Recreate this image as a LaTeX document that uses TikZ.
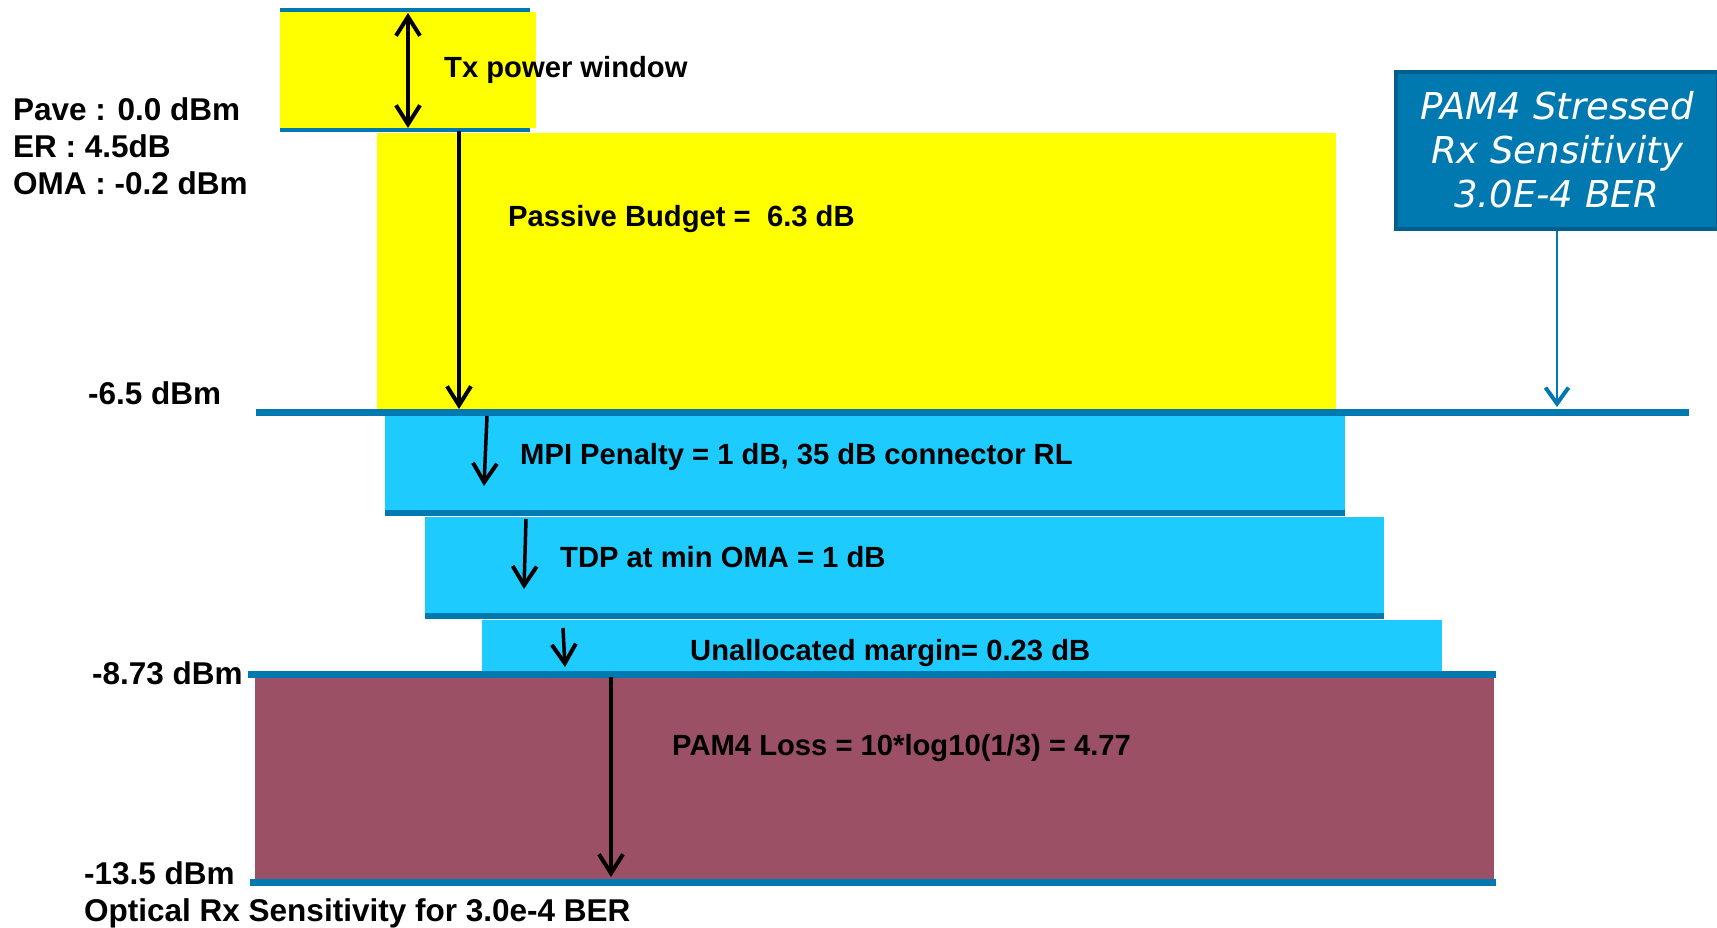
\documentclass[tikz,border=0pt]{standalone}
\usepackage{fontspec}
\setmainfont{Liberation Sans}
\newfontfamily\boxfont{DejaVu Sans}
\usetikzlibrary{arrows.meta}
\definecolor{txyellow}{HTML}{FFFF00}
\definecolor{penblue}{HTML}{1DCBFF}
\definecolor{lossred}{HTML}{9B5065}
\definecolor{levelblue}{HTML}{0079B0}
\definecolor{boxedge}{HTML}{005F8C}
\begin{document}
\begin{tikzpicture}[x=1pt,y=-1pt, every node/.style={font=\fontsize{29.2}{33}\selectfont\bfseries,inner sep=0pt,text height=21pt,text depth=0pt,anchor=west},
	side/.style={font=\fontsize{31.5}{36}\selectfont\bfseries,text height=22.5pt},
	level/.style={draw=levelblue,line width=7pt},
	barb/.tip={Straight Barb[length=19pt,width=24pt,line width=4pt]},
	drop/.style={line width=3.5pt,-barb},
	sensbox/.style={fill=levelblue,draw=boxedge,line width=4pt,anchor=center,text height=,text depth=,minimum width=322pt,minimum height=157pt,align=center,text=white,font=\fontsize{37}{44}\selectfont\boxfont\itshape}]
			\useasboundingbox (0,0) rectangle (1717,927);
			\fill[txyellow] (280,12) rectangle (536,128);
			\draw[levelblue,line width=4pt] (280,10) -- (530,10) (280,130) -- (530,130);
			\fill[txyellow] (377,133) rectangle (1336,410);
			\fill[penblue] (385,415) rectangle (1345,512);
			\draw[level,line width=6pt] (385,513) -- (1345,513);
			\fill[penblue] (425,517) rectangle (1384,614);
			\draw[level,line width=6pt] (425,616) -- (1384,616);
			\fill[penblue] (482,620) rectangle (1442,672);
			\fill[lossred] (255,678) rectangle (1494,880);
			\draw[level] (256,412) -- (1689,412);
			\draw[level] (248,674) -- (1496,674);
			\draw[level] (250,882) -- (1496,882);
			\node[side] (pave) at (13,109) {Pave : 0.0 dBm};
			\node[side] (er) at (13,146) {ER : 4.5dB};
			\node[side] (oma) at (13,183) {OMA : -0.2 dBm};
			\node[side] (lvla) at (88,393) {-6.5 dBm};
			\node[side] (lvlb) at (92,673) {-8.73 dBm};
			\node[side] (lvlc) at (84,873) {-13.5 dBm};
			\node[side] (optical) at (84,910) {Optical Rx Sensitivity for 3.0e-4 BER};
			\node (txwin) at (444,67) {Tx power window};
			\node (passive) at (508,216) {Passive Budget =\ \ 6.3 dB};
			\node (mpi) at (520,454) {MPI Penalty = 1 dB, 35 dB connector RL};
			\node (tdp) at (560,557) {TDP at min OMA = 1 dB};
			\node (unalloc) at (690,650) {Unallocated margin= 0.23 dB};
			\node (pamloss) at (672,745) {PAM4 Loss = 10*log10(1/3) = 4.77};
			\node[sensbox] (sens) at (1557,150) {PAM4 Stressed\\Rx Sensitivity\\3.0E-4 BER};
			\coordinate (txtop) at (408,13);
			\coordinate (txbot) at (408,128);
			\coordinate (pbtop) at (459,131);
			\coordinate (pbbot) at (459,409);
			\coordinate (mpitop) at (487,416);
			\coordinate (mpibot) at (484,486);
			\coordinate (tdptop) at (526,519);
			\coordinate (tdpbot) at (524,589);
			\coordinate (uatop) at (563,628);
			\coordinate (uabot) at (565,667);
			\coordinate (pltop) at (611,677);
			\coordinate (plbot) at (611,877);
			\coordinate (senshit) at (1557,407);
			\draw[drop,barb-barb] (txtop) to (txbot);
			\draw[drop] (pbtop) to (pbbot);
			\draw[drop] (mpitop) to (mpibot);
			\draw[drop] (tdptop) to (tdpbot);
			\draw[drop] (uatop) to (uabot);
			\draw[drop] (pltop) to (plbot);
			\draw[levelblue,line width=2pt,-{Straight Barb[length=16pt,width=23pt,line width=4pt]}] (sens.south) to (senshit);
		\end{tikzpicture}
\end{document}
